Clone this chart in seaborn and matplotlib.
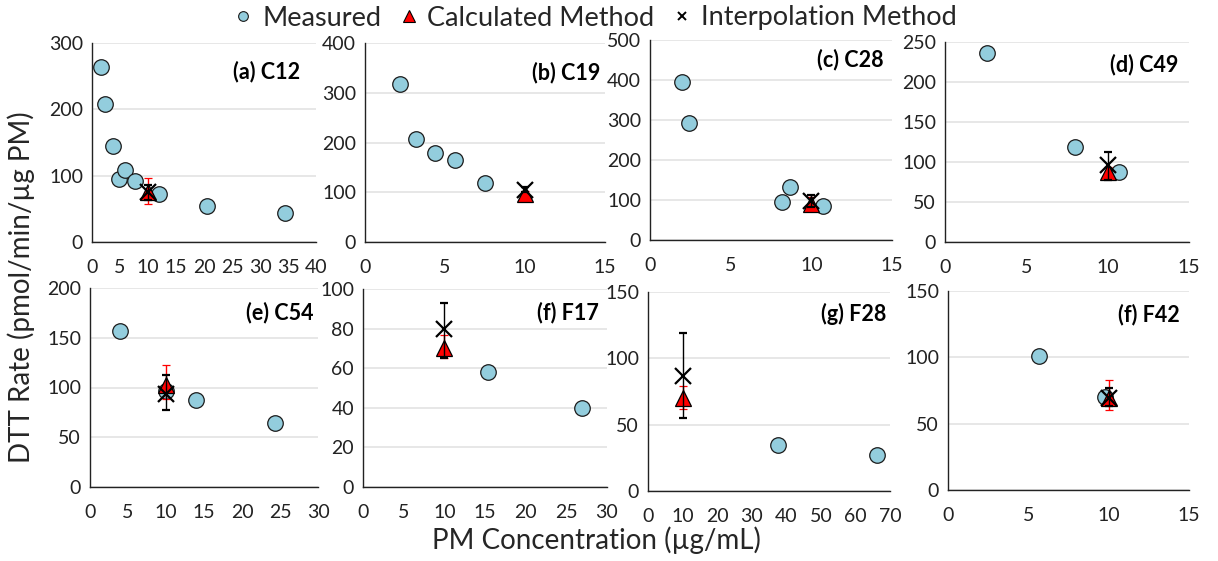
import numpy as np
import pandas as pd
import seaborn as sns
import matplotlib.pyplot as plt
from matplotlib.lines import Line2D

# DTT rate vs PM concentration for each sample
panels = ['(a) C12', '(b) C19', '(c) C28', '(d) C49', '(e) C54', '(f) F17', '(g) F28', '(f) F42']

meas_x = [
    [1.6, 2.3, 3.7, 4.8, 5.9, 7.7, 12.0, 20.5, 34.4],
    [2.2, 3.2, 4.4, 5.6, 7.5],
    [2.0, 2.4, 8.2, 8.7, 10.7],
    [2.6, 8.0, 10.7],
    [4.0, 10.0, 14.0, 24.3],
    [15.4, 26.9],
    [37.5, 66.1],
    [5.65, 9.8],
]
meas_y = [
    [264, 208, 144, 95, 109, 92, 72, 54, 43],
    [317, 208, 179, 165, 119],
    [394, 293, 94, 133, 84],
    [236, 119, 88],
    [157, 96, 87, 64],
    [58, 40],
    [35, 27],
    [101, 70],
]

# both methods estimate the rate at 10 ug/mL
est_x = 10
calc_y = [76, 97, 89, 87, 103, 70, 70, 69]
calc_lo = [58, 92, 80, 80, 88, 65, 62, 60]
calc_hi = [97, 102, 108, 94, 123, 77, 79, 83]
interp_y = [75, 105, 97, 96, 93, 80, 87, 69]
interp_lo = [64, 100, 82, 78, 77, 65, 55, 63]
interp_hi = [86, 110, 112, 112, 113, 93, 119, 77]

xmax = [40, 15, 15, 15, 30, 30, 70, 15]
xstep = [5, 5, 5, 5, 5, 5, 10, 5]
ymax = [300, 400, 500, 250, 200, 100, 150, 150]
ystep = [100, 100, 100, 50, 50, 20, 50, 50]

sns.set_style('white')
plt.rcParams['font.family'] = ['Lato', 'DejaVu Sans']

W, H = 1218, 561
fig = plt.figure(figsize=(W / 100, H / 100), dpi=100)

# axes boxes in pixels: left, top, right, bottom
boxes = [(92, 43, 316, 242), (365, 43, 605, 242), (650, 40, 892, 240), (945, 42, 1189, 242),
         (90, 288, 318, 487), (363, 289, 607, 487), (648, 292, 890, 491), (948, 291, 1189, 490)]
label_pos = [(0.93, 0.855), (0.98, 0.85), (0.965, 0.9), (0.955, 0.885),
             (0.98, 0.875), (0.965, 0.88), (0.983, 0.89), (0.963, 0.88)]

blue = '#93CDDD'

for i in range(8):
    l, t, r, b = boxes[i]
    ax = fig.add_axes([l / W, 1 - b / H, (r - l) / W, (b - t) / H])
    df = pd.DataFrame({'conc': meas_x[i], 'rate': meas_y[i]})
    sns.scatterplot(data=df, x='conc', y='rate', ax=ax, s=125, color=blue,
                    edgecolor='#1a1a1a', linewidth=0.9, zorder=3, clip_on=False)
    ax.errorbar([est_x], [calc_y[i]], yerr=[[calc_y[i] - calc_lo[i]], [calc_hi[i] - calc_y[i]]],
                fmt='^', ms=12, mfc='red', mec='black', mew=0.9, ecolor='red',
                elinewidth=1, capsize=3, capthick=1, zorder=4, clip_on=False)
    ax.errorbar([est_x], [interp_y[i]], yerr=[[interp_y[i] - interp_lo[i]], [interp_hi[i] - interp_y[i]]],
                fmt='x', ms=11, color='black', mew=1.6, ecolor='black',
                elinewidth=1, capsize=3, capthick=1, zorder=5, clip_on=False)

    ax.set_xlim(0, xmax[i])
    ax.set_ylim(0, ymax[i])
    ax.set_xticks(np.arange(0, xmax[i] + 1, xstep[i]))
    ax.set_yticks(np.arange(0, ymax[i] + 1, ystep[i]))
    ax.yaxis.grid(True, color='#e3e3e3', lw=1.2)
    ax.set_axisbelow(True)
    for s in ['top', 'right']:
        ax.spines[s].set_visible(False)
    for s in ['left', 'bottom']:
        ax.spines[s].set_color('#222222')
        ax.spines[s].set_linewidth(1)
    ax.tick_params(axis='both', direction='inout', length=9, width=1, color='#222222',
                   labelsize=14, colors='#222222')
    ax.tick_params(axis='x', pad=8)
    ax.tick_params(axis='y', pad=2)
    ax.set_xlabel('')
    ax.set_ylabel('')
    ax.text(label_pos[i][0], label_pos[i][1], panels[i], transform=ax.transAxes,
            ha='right', va='center', fontsize=15.5, fontweight='bold', color='black')

fig.text(0.49, 1 - 540 / H, 'PM Concentration (\u00b5g/mL)', ha='center', va='center', fontsize=20)
fig.text(21 / W, 1 - 287 / H, 'DTT Rate (pmol/min/\u00b5g PM)', ha='center', va='center',
         rotation=90, fontsize=20)

handles = [
    Line2D([], [], ls='none', marker='o', ms=7, mfc=blue, mec='#1a1a1a', mew=0.8),
    Line2D([], [], ls='none', marker='^', ms=8, mfc='red', mec='black', mew=0.8),
    Line2D([], [], ls='none', marker='x', ms=6, color='black', mew=1.4),
]
fig.legend(handles, ['Measured', 'Calculated Method', 'Interpolation Method'],
           loc='center', bbox_to_anchor=(0.487, 1 - 18 / H), ncol=3, frameon=False,
           fontsize=19.5, handletextpad=0.2, columnspacing=0.5, handlelength=1.0)

fig.savefig('out.png', dpi=100)
